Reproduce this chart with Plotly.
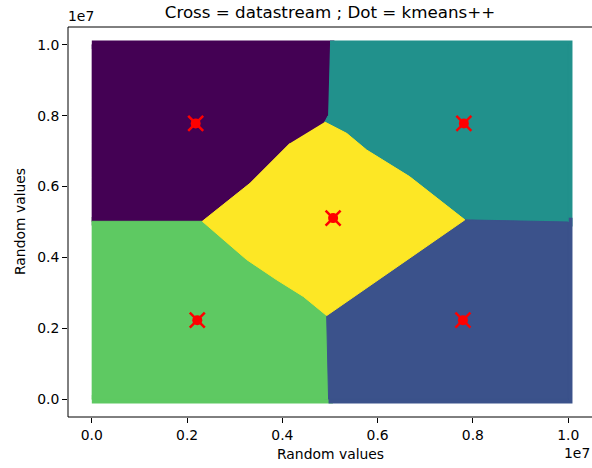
import plotly.graph_objects as go

# ---- data (units of 1e7) ----
# cluster regions (outline vertices)
purple_x = [0.000, 0.500, 0.496, 0.489, 0.416, 0.374, 0.332, 0.232, 0.000]
purple_y = [1.000, 1.000, 0.800, 0.782, 0.722, 0.665, 0.609, 0.502, 0.502]

teal_x = [0.500, 1.000, 1.000, 0.783, 0.667, 0.577, 0.535, 0.489, 0.496]
teal_y = [1.000, 1.000, 0.500, 0.506, 0.628, 0.703, 0.750, 0.782, 0.800]

green_x = [0.000, 0.232, 0.276, 0.325, 0.388, 0.444, 0.493, 0.497, 0.497, 0.000]
green_y = [0.502, 0.502, 0.450, 0.394, 0.337, 0.290, 0.236, 0.200, 0.000, 0.000]

blue_x = [0.497, 0.493, 0.521, 0.632, 0.723, 0.783, 1.000, 1.000, 0.497]
blue_y = [0.000, 0.236, 0.262, 0.365, 0.450, 0.506, 0.500, 0.000, 0.000]

yellow_x = [0.489, 0.535, 0.577, 0.667, 0.783, 0.723, 0.632, 0.521, 0.493,
            0.444, 0.388, 0.325, 0.276, 0.232, 0.332, 0.374, 0.416]
yellow_y = [0.782, 0.750, 0.703, 0.628, 0.506, 0.450, 0.365, 0.262, 0.236,
            0.290, 0.337, 0.394, 0.450, 0.502, 0.609, 0.665, 0.722]

# centroids
stream_x = [0.218, 0.781, 0.5065, 0.2214, 0.779]
stream_y = [0.778, 0.778, 0.511, 0.223, 0.223]
kmeans_x = [0.218, 0.781, 0.5065, 0.2214, 0.779]
kmeans_y = [0.778, 0.778, 0.511, 0.223, 0.223]

tick_vals = [0.0, 0.2, 0.4, 0.6, 0.8, 1.0]
tick_text = ["0.0", "0.2", "0.4", "0.6", "0.8", "1.0"]

SCALE = 1e7
regions = [
    (purple_x, purple_y, "#440154"),
    (teal_x, teal_y, "#21918c"),
    (green_x, green_y, "#5ec962"),
    (blue_x, blue_y, "#3b528b"),
    (yellow_x, yellow_y, "#fde725"),
]


def sc(v):
    return [a * SCALE for a in v]


fig = go.Figure()
# outer layer: thick outline gives the marker-radius spread
for xs, ys, col in regions:
    fig.add_trace(go.Scatter(x=sc(xs), y=sc(ys), mode="lines", fill="toself",
                             fillcolor=col, line=dict(color=col, width=8.6),
                             hoverinfo="skip"))
# inner layer: exact boundaries
for xs, ys, col in regions:
    fig.add_trace(go.Scatter(x=sc(xs), y=sc(ys), mode="lines", fill="toself",
                             fillcolor=col, line=dict(color=col, width=1),
                             hoverinfo="skip"))

fig.add_trace(go.Scatter(x=sc(kmeans_x), y=sc(kmeans_y), mode="markers",
                         marker=dict(symbol="circle", size=10, color="#ff0000",
                                     line=dict(width=0)), hoverinfo="skip"))
fig.add_trace(go.Scatter(x=sc(stream_x), y=sc(stream_y), mode="markers",
                         marker=dict(symbol="x-thin", size=15, color="#ff0000",
                                     line=dict(width=2.5, color="#ff0000")),
                         hoverinfo="skip"))

FONT = "DejaVu Sans"
fig.update_layout(
    width=592, height=468,
    margin=dict(l=68, r=0, t=27, b=51, autoexpand=False),
    paper_bgcolor="white", plot_bgcolor="white",
    showlegend=False,
    font=dict(family=FONT, size=13.9, color="black"),
    title=dict(text="Cross = datastream ; Dot = kmeans++", x=330 / 592,
               xanchor="center", xref="container", yref="container",
               y=1 - 12 / 468, yanchor="middle",
               font=dict(family=FONT, size=16.7, color="black")),
)
axis_common = dict(
    range=[-0.05 * SCALE, 1.05 * SCALE],
    tickvals=sc(tick_vals), ticktext=tick_text,
    ticks="outside", ticklen=5, tickwidth=1, tickcolor="black",
    showline=False, showgrid=False, zeroline=False, automargin=False,
    tickfont=dict(family=FONT, size=13.9, color="black"),
)
fig.update_xaxes(**axis_common)
fig.update_yaxes(**axis_common)

# spines (left, bottom, top)
for x0, x1, y0, y1 in [(0, 0, 0, 1), (0, 1, 0, 0), (0, 1, 1, 1)]:
    fig.add_shape(type="line", xref="paper", yref="paper",
                  x0=x0, x1=x1, y0=y0, y1=y1,
                  line=dict(color="black", width=1), layer="above")

fig.add_annotation(text="Random values", xref="paper", yref="paper",
                   x=(330 - 68) / 524, y=0, xanchor="center", yanchor="middle",
                   yshift=-37, showarrow=False, font=dict(family=FONT, size=13.9))
fig.add_annotation(text="Random values", xref="paper", yref="paper",
                   x=0, y=0.5, xanchor="center", yanchor="middle", textangle=-90,
                   xshift=-48, showarrow=False, font=dict(family=FONT, size=13.9))
fig.add_annotation(text="1e7", xref="paper", yref="paper", x=0, y=1,
                   xanchor="left", yanchor="bottom", yshift=1, xshift=-2,
                   showarrow=False, font=dict(family=FONT, size=13.9))
fig.add_annotation(text="1e7", xref="paper", yref="paper", x=1, y=0,
                   xanchor="right", yanchor="middle", yshift=-36,
                   showarrow=False, font=dict(family=FONT, size=13.9))

fig.write_html("out.html", config={"displayModeBar": False},
               post_script="document.body.style.margin='0';")
